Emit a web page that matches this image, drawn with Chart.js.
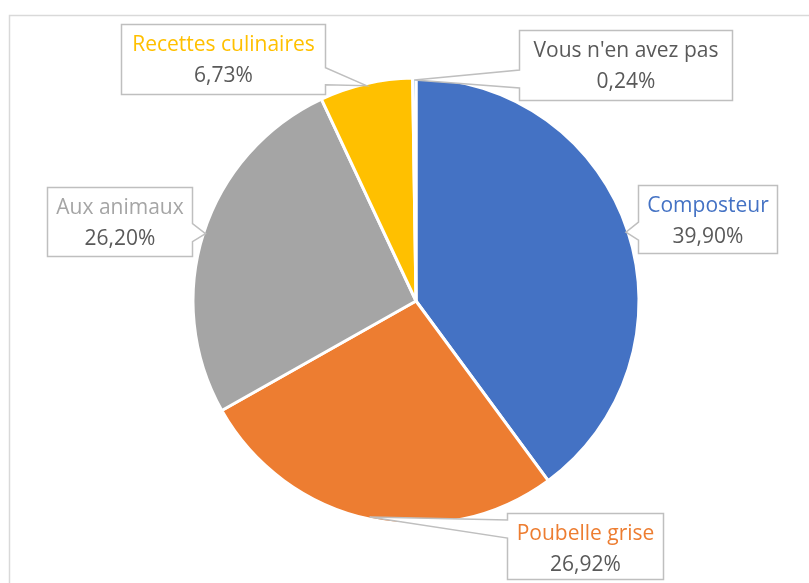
<!DOCTYPE html>
<html>
<head>
<meta charset="utf-8">
<script src="https://cdn.jsdelivr.net/npm/chart.js@4/dist/chart.umd.min.js"></script>
<style>
  html, body { margin: 0; padding: 0; background: #ffffff; }
  #wrap { position: relative; width: 809px; height: 583px; overflow: hidden; }
  canvas { display: block; }
</style>
</head>
<body>
<div id="wrap"><canvas id="c" width="809" height="583"></canvas></div>
<script>
// ---- data ----
const categories = ["Composteur", "Poubelle grise", "Aux animaux", "Recettes culinaires", "Vous n'en avez pas"];
const values = [39.90, 26.92, 26.20, 6.73, 0.24];
const valueLabels = ["39,90%", "26,92%", "26,20%", "6,73%", "0,24%"];

// ---- styles ----
const sliceColors = ["#4472C4", "#ED7D31", "#A5A5A5", "#FFC000", "#5B9BD5"];
const nameColors = ["#4472C4", "#ED7D31", "#A5A5A5", "#FFC000", "#595959"];
// callout box: centre offset from the slice tip, box size, wedge base (offsets from tip along the box edge)
const calloutLayout = [
  { dx: 81.5, dy: -13, w: 139, h: 68, base: [-10, 8] },
  { dx: 215, dy: 29, w: 156, h: 66, base: [3, 21] },
  { dx: -86, dy: -12.5, w: 145, h: 69, base: [-10, 8] },
  { dx: -143.3, dy: -26.7, w: 204, h: 70, base: [-18, -1] },
  { dx: 211, dy: -15, w: 213, h: 70, base: [-10, 8] }
];
const FONT = '"Open Sans", sans-serif';

const framePlugin = {
  id: 'frame',
  beforeDraw(chart) {
    const ctx = chart.ctx;
    ctx.save();
    ctx.strokeStyle = '#D9D9D9';
    ctx.lineWidth = 1.5;
    ctx.strokeRect(9.5, 15.5, 900, 700);
    ctx.restore();
  }
};

function calloutPath(ctx, bx, by, bw, bh, tx, ty, base) {
  let side;
  if (tx < bx) side = 'left';
  else if (tx > bx + bw) side = 'right';
  else if (ty < by) side = 'top';
  else side = 'bottom';
  ctx.beginPath();
  if (side === 'left' || side === 'right') {
    let a = ty + base[0], b = ty + base[1];
    if (a < by) { b += by - a; a = by; }
    if (b > by + bh) { a -= b - (by + bh); b = by + bh; }
    ctx.moveTo(bx, by);
    ctx.lineTo(bx + bw, by);
    if (side === 'right') { ctx.lineTo(bx + bw, a); ctx.lineTo(tx, ty); ctx.lineTo(bx + bw, b); }
    ctx.lineTo(bx + bw, by + bh);
    ctx.lineTo(bx, by + bh);
    if (side === 'left') { ctx.lineTo(bx, b); ctx.lineTo(tx, ty); ctx.lineTo(bx, a); }
    ctx.closePath();
  } else {
    let a = tx + base[0], b = tx + base[1];
    if (a < bx) { b += bx - a; a = bx; }
    if (b > bx + bw) { a -= b - (bx + bw); b = bx + bw; }
    ctx.moveTo(bx, by);
    if (side === 'top') { ctx.lineTo(a, by); ctx.lineTo(tx, ty); ctx.lineTo(b, by); }
    ctx.lineTo(bx + bw, by);
    ctx.lineTo(bx + bw, by + bh);
    if (side === 'bottom') { ctx.lineTo(b, by + bh); ctx.lineTo(tx, ty); ctx.lineTo(a, by + bh); }
    ctx.lineTo(bx, by + bh);
    ctx.closePath();
  }
}

const calloutPlugin = {
  id: 'callouts',
  afterDraw(chart) {
    const ctx = chart.ctx;
    const meta = chart.getDatasetMeta(0);
    meta.data.forEach((arc, i) => {
      const p = arc.getProps(['x', 'y', 'startAngle', 'endAngle', 'outerRadius'], true);
      const mid = (p.startAngle + p.endAngle) / 2;
      const tx = p.x + Math.cos(mid) * (p.outerRadius - 2);
      const ty = p.y + Math.sin(mid) * (p.outerRadius - 2);
      const L = calloutLayout[i];
      const bx = Math.round(tx + L.dx - L.w / 2) + 0.5;
      const by = Math.round(ty + L.dy - L.h / 2) + 0.5;
      ctx.save();
      calloutPath(ctx, bx, by, L.w, L.h, tx, ty, L.base);
      ctx.fillStyle = '#FFFFFF';
      ctx.fill();
      ctx.strokeStyle = '#BFBFBF';
      ctx.lineWidth = 1.5;
      ctx.lineJoin = 'miter';
      ctx.stroke();
      ctx.textAlign = 'center';
      ctx.textBaseline = 'middle';
      ctx.font = '21px ' + FONT;
      ctx.fillStyle = nameColors[i];
      ctx.fillText(categories[i], bx + L.w / 2, by + 21);
      ctx.fillStyle = '#595959';
      ctx.fillText(valueLabels[i], bx + L.w / 2, by + 52);
      ctx.restore();
    });
  }
};

new Chart(document.getElementById('c'), {
  type: 'pie',
  data: {
    labels: categories,
    datasets: [{
      data: values,
      backgroundColor: sliceColors,
      borderColor: '#FFFFFF',
      borderWidth: 3
    }]
  },
  options: {
    responsive: false,
    animation: false,
    radius: 223,
    layout: { padding: { left: 195, right: 172, top: 80, bottom: 61 } },
    plugins: {
      legend: { display: false },
      tooltip: { enabled: false }
    }
  },
  plugins: [framePlugin, calloutPlugin]
});
</script>
</body>
</html>
